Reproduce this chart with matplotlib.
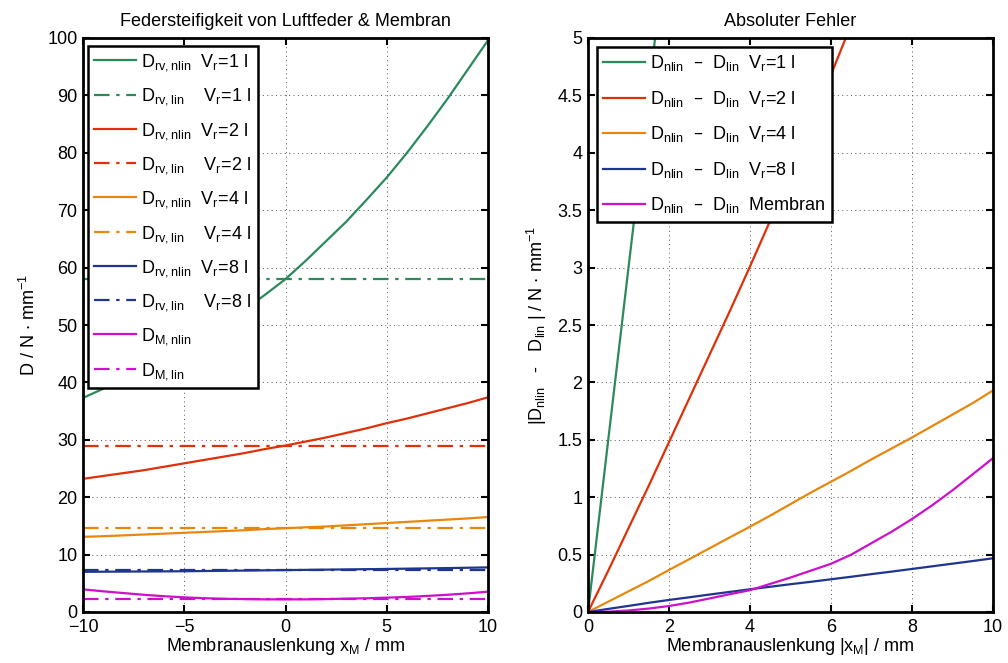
import numpy as np
import matplotlib
matplotlib.use("Agg")
import matplotlib.pyplot as plt

plt.rcParams['font.family'] = ['Liberation Sans', 'DejaVu Sans']
plt.rcParams['mathtext.default'] = 'regular'
plt.rcParams['axes.unicode_minus'] = True

# ---------------- data (left plot) ----------------
x_left = [-10, -9, -8, -7, -6, -5, -4, -3, -2, -1, 0, 1, 2, 3, 4, 5, 6, 7, 8, 9, 10]
d_rv1_nlin = [37.3, 38.9, 40.5, 42.2, 44.1, 46.1, 48.1, 50.4, 52.7, 55.3, 58.0,
              61.2, 64.6, 68.0, 71.8, 75.7, 80.0, 84.6, 89.4, 94.5, 99.6]
d_rv1_lin = 58.0
d_rv2_nlin = [23.2, 23.7, 24.2, 24.7, 25.3, 25.9, 26.5, 27.1, 27.7, 28.4, 29.0,
              29.7, 30.4, 31.2, 32.0, 32.9, 33.7, 34.6, 35.5, 36.4, 37.4]
d_rv2_lin = 29.0
d_rv4_nlin = [13.1, 13.2, 13.35, 13.5, 13.65, 13.8, 13.95, 14.1, 14.25, 14.45, 14.6,
              14.75, 14.9, 15.1, 15.3, 15.5, 15.7, 15.9, 16.1, 16.3, 16.55]
d_rv4_lin = 14.6
d_rv8_nlin = [7.0, 7.02, 7.04, 7.06, 7.08, 7.1, 7.14, 7.18, 7.22, 7.26, 7.3,
              7.34, 7.38, 7.42, 7.46, 7.5, 7.55, 7.6, 7.65, 7.71, 7.77]
d_rv8_lin = 7.3
d_m_nlin = [3.95, 3.6, 3.3, 3.0, 2.75, 2.55, 2.4, 2.3, 2.25, 2.2, 2.2,
            2.2, 2.25, 2.32, 2.39, 2.5, 2.62, 2.8, 3.0, 3.25, 3.54]
d_m_lin = 2.2

# ---------------- data (right plot) ----------------
x_right = [0, 0.5, 1, 1.5, 2, 2.5, 3, 3.5, 4, 4.5, 5, 5.5, 6, 6.5, 7, 7.5, 8, 8.5, 9, 9.5, 10]
err_v1 = [0, 1.5, 3.0, 4.5, 6.1, 7.7, 9.4, 11.1, 13.0, 14.8, 16.8, 18.9, 21.0, 23.3,
          25.6, 28.1, 30.6, 33.3, 36.0, 38.8, 41.6]
err_v2 = [0, 0.36, 0.73, 1.1, 1.48, 1.86, 2.24, 2.62, 3.01, 3.41, 3.82, 4.24, 4.68,
          5.12, 5.57, 6.0, 6.5, 7.0, 7.5, 8.0, 8.5]
err_v4 = [0, 0.09, 0.18, 0.27, 0.366, 0.46, 0.555, 0.65, 0.743, 0.84, 0.94, 1.04,
          1.135, 1.23, 1.33, 1.425, 1.52, 1.62, 1.72, 1.82, 1.93]
err_v8 = [0, 0.027, 0.053, 0.08, 0.105, 0.128, 0.152, 0.175, 0.198, 0.22, 0.242,
          0.263, 0.285, 0.307, 0.33, 0.352, 0.375, 0.398, 0.421, 0.444, 0.468]
err_m = [0, 0.003, 0.013, 0.03, 0.052, 0.082, 0.118, 0.155, 0.19, 0.245, 0.30,
         0.36, 0.42, 0.5, 0.6, 0.7, 0.81, 0.93, 1.06, 1.2, 1.34]

volumes = ['1', '2', '4', '8']
c_green = '#2a8a5a'
c_red = '#e0300a'
c_orange = '#e8870e'
c_blue = '#1f3590'
c_mag = '#cc10cc'
colors = [c_green, c_red, c_orange, c_blue]

FS = 13
LW = 1.6
DASHDOT = (0, (7, 3, 1.5, 3))

fig = plt.figure(figsize=(10.08, 6.63), dpi=100)
ax1 = fig.add_axes([83/1008, 1-612/663, 405/1008, 574/663])
ax2 = fig.add_axes([588/1008, 1-612/663, 405/1008, 574/663])


def style_axes(ax):
    for s in ax.spines.values():
        s.set_linewidth(2.0)
        s.set_color('black')
    ax.tick_params(direction='in', length=5, width=1.5, top=True, right=True,
                   labelsize=FS, pad=4)
    ax.tick_params(axis='x', pad=5)
    ax.grid(True, color='#555555', linestyle=(0, (1, 3.5)), linewidth=0.7)
    ax.set_axisbelow(True)


# ---------------- left ----------------
nlin = [d_rv1_nlin, d_rv2_nlin, d_rv4_nlin, d_rv8_nlin]
lin = [d_rv1_lin, d_rv2_lin, d_rv4_lin, d_rv8_lin]
for v, c, yn, yl in zip(volumes, colors, nlin, lin):
    ax1.plot(x_left, yn, color=c, lw=LW,
             label=r'$D_{rv,nlin}$  $V_r$=%s l' % v)
    ax1.plot(x_left, [yl] * len(x_left), color=c, lw=LW, linestyle=DASHDOT,
             label=r'$D_{rv,lin}$    $V_r$=%s l' % v)
ax1.plot(x_left, d_m_nlin, color=c_mag, lw=LW, label=r'$D_{M,nlin}$')
ax1.plot(x_left, [d_m_lin] * len(x_left), color=c_mag, lw=LW, linestyle=DASHDOT,
         label=r'$D_{M,lin}$')
ax1.set_xlim(-10, 10)
ax1.set_ylim(0, 100)
ax1.set_xticks([-10, -5, 0, 5, 10])
ax1.set_yticks(range(0, 101, 10))
style_axes(ax1)
ax1.set_title('Federsteifigkeit von Luftfeder & Membran', fontsize=FS, pad=9)
ax1.set_xlabel(r'Membranauslenkung $x_M$ / mm', fontsize=FS, labelpad=0)
ax1.set_ylabel(r'D / N $\cdot$ mm$^{-1}$', fontsize=FS, labelpad=6)
leg1 = ax1.legend(loc='upper left', bbox_to_anchor=(5/405, 1-8/574), fontsize=FS,
                  handlelength=2.3, handletextpad=0.3, labelspacing=0.74,
                  borderpad=0.35, fancybox=False, framealpha=1, borderaxespad=0)
leg1.get_frame().set_edgecolor('black')
leg1.get_frame().set_linewidth(1.8)

# ---------------- right ----------------
errs = [err_v1, err_v2, err_v4, err_v8]
for v, c, e in zip(volumes, colors, errs):
    ax2.plot(x_right, e, color=c, lw=LW,
             label=r'$D_{nlin}$  –  $D_{lin}$  $V_r$=%s l' % v)
ax2.plot(x_right, err_m, color=c_mag, lw=LW, label=r'$D_{nlin}$  –  $D_{lin}$  Membran')
ax2.set_xlim(0, 10)
ax2.set_ylim(0, 5)
ax2.set_xticks(range(0, 11, 2))
ax2.set_yticks(np.arange(0, 5.01, 0.5))
ax2.set_yticklabels(['0', '0.5', '1', '1.5', '2', '2.5', '3', '3.5', '4', '4.5', '5'])
style_axes(ax2)
ax2.set_title('Absoluter Fehler', fontsize=FS, pad=9)
ax2.set_xlabel(r'Membranauslenkung |$x_M$| / mm', fontsize=FS, labelpad=0)
ax2.set_ylabel(r'|$D_{nlin}$   -   $D_{lin}$ | / N $\cdot$ mm$^{-1}$', fontsize=FS, labelpad=6)
leg2 = ax2.legend(loc='upper left', bbox_to_anchor=(9/405, 1-9/574), fontsize=FS,
                  handlelength=2.3, handletextpad=0.3, labelspacing=0.86,
                  borderpad=0.35, fancybox=False, framealpha=1, borderaxespad=0)
leg2.get_frame().set_edgecolor('black')
leg2.get_frame().set_linewidth(1.8)

fig.savefig('out.png', dpi=100)
